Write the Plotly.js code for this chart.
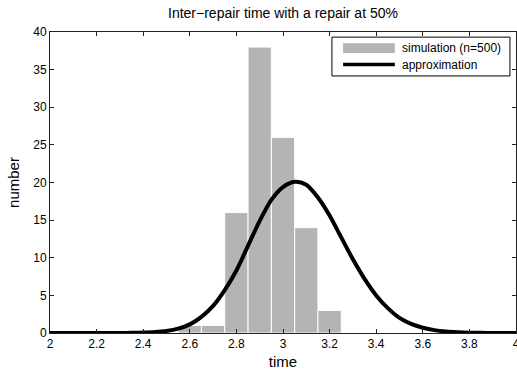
<!DOCTYPE html>
<html>
<head>
<meta charset="utf-8">
<script src="https://cdn.plot.ly/plotly-3.0.1.min.js"></script>
<style>html,body{margin:0;padding:0;background:#fff;}#chart{width:517px;height:372px;}</style>
</head>
<body>
<div id="chart"></div>
<script>
// Histogram bins (centers) and counts
var binCenters = [2.6, 2.7, 2.8, 2.9, 3.0, 3.1, 3.2];
var binCounts  = [1, 1, 16, 38, 26, 14, 3];

// Approximation curve
var curveX = [2.00, 2.05, 2.10, 2.15, 2.20, 2.25, 2.30, 2.35, 2.40, 2.45, 2.50, 2.55, 2.60, 2.65, 2.70, 2.75, 2.80, 2.85, 2.90, 2.95, 3.00, 3.05, 3.10, 3.15, 3.20, 3.25, 3.30, 3.35, 3.40, 3.45, 3.50, 3.55, 3.60, 3.65, 3.70, 3.75, 3.80, 3.85, 3.90, 3.95, 4.00];
var curveY = [0, 0, 0, 0, 0, 0, 0.01, 0.02, 0.05, 0.12, 0.27, 0.58, 1.15, 2.15, 3.6, 5.7, 8.3, 11.6, 14.9, 17.7, 19.4, 20.1, 19.7, 18.0, 15.6, 12.7, 9.8, 7.2, 5.0, 3.3, 2.0, 1.2, 0.7, 0.38, 0.2, 0.1, 0.04, 0.02, 0.01, 0, 0];

// Tick labels
var xTickVals = [2, 2.2, 2.4, 2.6, 2.8, 3, 3.2, 3.4, 3.6, 3.8, 4];
var xTickText = ['2', '2.2', '2.4', '2.6', '2.8', '3', '3.2', '3.4', '3.6', '3.8', '4'];
var yTickVals = [0, 5, 10, 15, 20, 25, 30, 35, 40];

var legendLabels = ['simulation (n=500)', 'approximation'];
var titleText = 'Inter\u2212repair time with a repair at 50%';
var xTitle = 'time';
var yTitle = 'number';

var font = 'Liberation Sans, Arial, Helvetica, sans-serif';

var traces = [
  {
    type: 'bar', x: binCenters, y: binCounts, width: 0.1,
    marker: {color: '#b4b4b4', line: {color: '#ffffff', width: 1}},
    showlegend: false, hoverinfo: 'skip'
  },
  {
    type: 'scatter', mode: 'lines', x: curveX, y: curveY,
    line: {color: '#000000', width: 4, shape: 'spline', smoothing: 0.8},
    showlegend: false, hoverinfo: 'skip', cliponaxis: true
  }
];

var layout = {
  width: 517, height: 372,
  margin: {l: 50, r: 1, t: 32, b: 39},
  paper_bgcolor: '#ffffff', plot_bgcolor: '#ffffff',
  font: {family: font, size: 12, color: '#000'},
  bargap: 0,
  title: {text: titleText, font: {family: font, size: 14, color: '#000'}, x: 0.5, xref: 'paper', y: 1 - 13/372, yref: 'container', yanchor: 'middle'},
  xaxis: {
    range: [2, 4], tickmode: 'array', tickvals: xTickVals, ticktext: xTickText,
    ticklabeloverflow: 'allow', automargin: false,
    showgrid: false, zeroline: false,
    showline: true, linecolor: '#222', linewidth: 1, mirror: 'ticks',
    ticks: 'inside', ticklen: 4, tickcolor: '#222',
    tickfont: {family: font, size: 12, color: '#000'},
    title: {text: xTitle, font: {family: font, size: 15, color: '#000'}, standoff: 6}
  },
  yaxis: {
    range: [0, 40], tickmode: 'array', tickvals: yTickVals,
    showgrid: false, zeroline: false,
    showline: true, linecolor: '#222', linewidth: 1, mirror: 'ticks',
    ticks: 'inside', ticklen: 4, tickcolor: '#222',
    tickfont: {family: font, size: 12, color: '#000'},
    title: {text: yTitle, font: {family: font, size: 15, color: '#000'}, standoff: 9}
  },
  shapes: [
    {type: 'rect', xref: 'paper', yref: 'paper', x0: 0.605, x1: 0.987, y0: 0.854, y1: 0.983,
     line: {color: '#000', width: 1}, fillcolor: '#ffffff'},
    {type: 'rect', xref: 'paper', yref: 'paper', x0: 0.629, x1: 0.740, y0: 0.930, y1: 0.963,
     line: {width: 0}, fillcolor: '#b4b4b4'},
    {type: 'line', xref: 'paper', yref: 'paper', x0: 0.629, x1: 0.740, y0: 0.892, y1: 0.892,
     line: {color: '#000', width: 3.5}}
  ],
  annotations: [
    {xref: 'paper', yref: 'paper', x: 0.751, y: 0.947, xanchor: 'left', yanchor: 'middle', showarrow: false,
     text: legendLabels[0], font: {family: font, size: 12, color: '#000'}},
    {xref: 'paper', yref: 'paper', x: 0.751, y: 0.892, xanchor: 'left', yanchor: 'middle', showarrow: false,
     text: legendLabels[1], font: {family: font, size: 12, color: '#000'}}
  ]
};

Plotly.newPlot('chart', traces, layout, {displayModeBar: false, staticPlot: true});
</script>
</body>
</html>
